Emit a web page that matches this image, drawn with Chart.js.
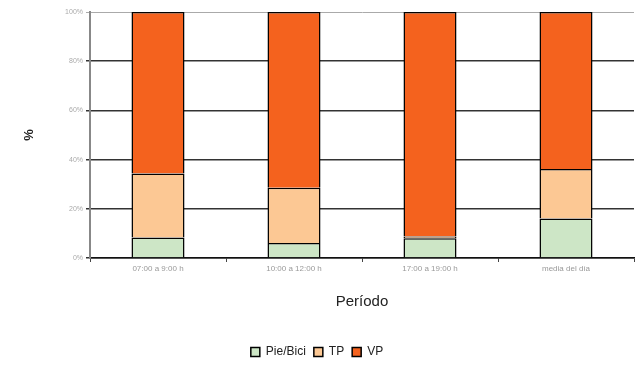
<!DOCTYPE html>
<html>
<head>
<meta charset="utf-8">
<script src="https://cdn.jsdelivr.net/npm/chart.js@4/dist/chart.umd.min.js"></script>
<style>
  html, body { margin: 0; padding: 0; background: #fff; }
  #wrap { width: 637px; height: 370px; }
</style>
</head>
<body>
<div id="wrap"><canvas id="chart" width="637" height="370"></canvas></div>
<script>
const periods = ["07:00 a 9:00 h", "10:00 a 12:00 h", "17:00 a 19:00 h", "media del día"];
const pieBici = [8.3, 6.1, 8.0, 16.1];
const tp = [26.1, 22.5, 0.7, 20.1];
const vp = [65.6, 71.4, 91.3, 63.8];
const yTicks = [0, 20, 40, 60, 80, 100];

// eslint-disable-next-line no-new
new Chart(document.getElementById("chart"), {
  type: 'bar',
  data: {
    labels: periods,
    datasets: [
      { label: "Pie/Bici", data: pieBici, backgroundColor: "#cde6c6", borderColor: "#000", borderWidth: 1.5 },
      { label: "TP", data: tp, backgroundColor: "#fcc894", borderColor: "#000", borderWidth: 1.5 },
      { label: "VP", data: vp, backgroundColor: "#f4621e", borderColor: "#000", borderWidth: 1.5 }
    ]
  },
  options: {
    responsive: false,
    animation: false,
    layout: { padding: { left: 0, right: 3, top: 12, bottom: 2 } },
    datasets: { bar: { barPercentage: 0.39, categoryPercentage: 1 } },
    scales: {
      x: {
        stacked: true,
        grid: { drawOnChartArea: false, drawTicks: true, tickLength: 4, color: "#444" },
        border: { color: "#111", width: 1.5 },
        ticks: { color: "#999", font: { family: "Liberation Sans", size: 8 }, padding: 2 },
        title: { display: true, text: "Período", color: "#222", font: { family: "Liberation Sans", size: 15 }, padding: { top: 10, bottom: 27 } },
        afterFit: (s) => { s.height = 80; }
      },
      y: {
        stacked: true,
        min: 0,
        max: 100,
        afterBuildTicks: (s) => { s.ticks = yTicks.map(v => ({ value: v })); },
        grid: {
          color: (c) => c.tick && c.tick.value === 100 ? "#aaa" : "#333",
          lineWidth: (c) => c.tick && c.tick.value === 100 ? 1 : 1.5,
          tickLength: 4
        },
        border: { color: "#888", width: 2 },
        ticks: { color: "#aaa", font: { family: "Liberation Sans", size: 7 }, padding: 3, callback: v => v + "%" },
        title: { display: true, text: "%", color: "#222", font: { family: "Liberation Sans", size: 13, weight: "bold" }, padding: { top: 22 } },
        afterFit: (s) => { s.width = 90; }
      }
    },
    plugins: {
      legend: {
        position: 'bottom',
        labels: { boxWidth: 9, boxHeight: 9, color: "#222", font: { family: "Liberation Sans", size: 12 }, padding: 8 }
      },
      tooltip: { enabled: false }
    }
  }
});
</script>
</body>
</html>
